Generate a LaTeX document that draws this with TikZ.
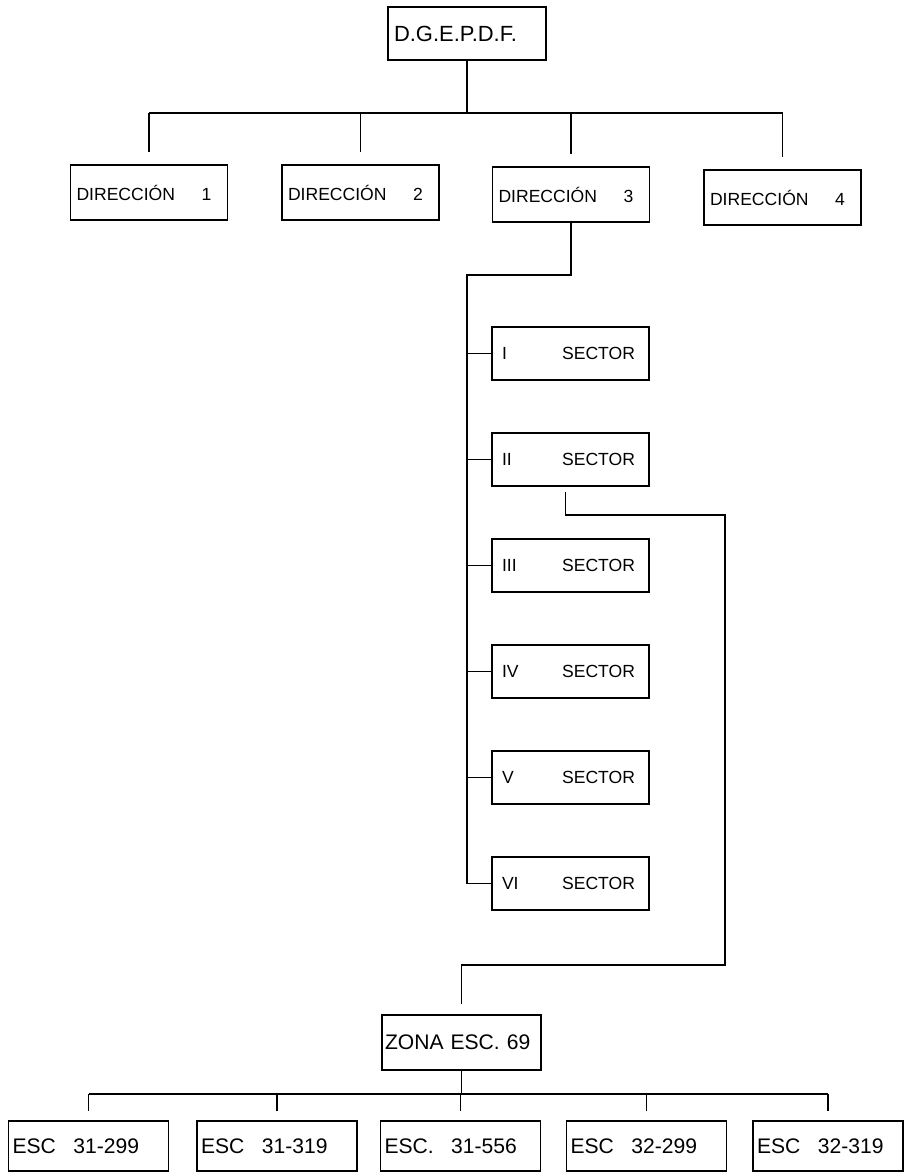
\documentclass[tikz,border=0pt]{standalone}
\usepackage{fontspec}
\setmainfont{Liberation Sans}
\usepackage{tikz}
\usetikzlibrary{calc}
\newcommand{\spreadline}[3]{\hbox to #1{#2\hfill #3}}

\begin{document}
\begin{tikzpicture}[x=0.02cm, y=-0.02cm, line width=1pt,
  every node/.style={font=\fontsize{10}{12}\selectfont},
  unitbox/.style={draw, rectangle, inner ysep=0pt, inner xsep=0.12cm},
  bigtext/.style={font=\fontsize{12}{14}\selectfont},
  dirbox/.style={unitbox, minimum height=1.1cm},
  secbox/.style={unitbox, inner xsep=0.2cm, minimum height=1.06cm},
  escbox/.style={unitbox, bigtext, inner xsep=0.08cm, text width=3.04cm, minimum height=1.0cm},
  linkgap/.style={shorten >=#1}, linkgap/.default=0.25cm]
\useasboundingbox (0,0) rectangle (905,1173);

\node[unitbox, font=\fontsize{12.5}{14}\selectfont, text width=2.92cm, minimum height=1.06cm] (dgep) at (467,33.5) {D.G.E.P.D.F.};
\foreach \name/\x/\y/\num in {dir1/149/192.5/1,dir2/360.5/192.5/2,dir3/571/194.5/3,dir4/782.5/197.5/4} {
  \node[dirbox] (\name) at (\x,\y) {\spreadline{2.9cm}{DIRECCIÓN}{\num\hspace{0.2cm}}};
}
\coordinate (topbus) at (467,113);
\draw (dgep) -- (topbus);
\draw (dir1.north |- topbus) -- (dir4.north |- topbus);
\foreach \name in {dir1,dir2,dir3,dir4} {
  \draw[linkgap] (\name.north |- topbus) -- (\name.north);
}

\foreach \name/\y/\num in {s1/353.5/I,s2/459.5/II,s3/565.5/III,s4/671.5/IV,s5/777.5/V,s6/883.5/VI} {
  \node[secbox] (\name) at (570.5,\y) {\spreadline{2.74cm}{\num}{SECTOR\hspace{0.08cm}}};
}
\coordinate (spine) at (467,275);
\draw (dir3.south) |- (spine) -- (spine |- s6.west) -- (s6.west);
\foreach \name in {s1,s2,s3,s4,s5} {
  \draw (spine |- \name.west) -- (\name.west);
}

\node[unitbox, bigtext, inner xsep=0.06cm, text width=3.06cm, minimum height=1.1cm] (zona) at (461.5,1042.5) {ZONA ESC. 69};
\coordinate (bendA) at (725,515);
\coordinate (bendB) at (725,965);
\draw[shorten <=0.1cm, linkgap=0.2cm] ([xshift=-0.1cm]s2.south) |- (bendA) -- (bendB) -| (zona.north);

\foreach \name/\x/\lbl/\num in {e1/88.5/ESC/31-299,e2/277/ESC/31-319,e3/460.5/ESC./31-556,e4/646.5/ESC/32-299} {
  \node[escbox] (\name) at (\x,1146) {\lbl\hspace{0.35cm}\num};
}
\node[escbox, text width=2.84cm] (e5) at (828,1146) {ESC\hspace{0.35cm}32-319};
\coordinate (lowbus) at (461.5,1094);
\draw (zona) -- (lowbus);
\draw (e1.north |- lowbus) -- (e5.north |- lowbus);
\foreach \i in {1,...,5} {
  \draw[linkgap=0.18cm] (e\i.north |- lowbus) -- (e\i.north);
}
\end{tikzpicture}
\end{document}
